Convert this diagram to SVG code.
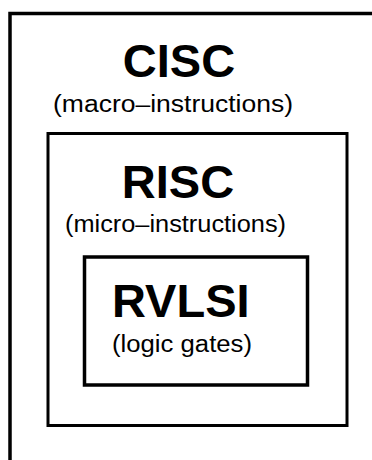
<svg xmlns="http://www.w3.org/2000/svg" width="372" height="460" viewBox="0 0 372 460">
<style>
.box{fill:none;stroke:#000;stroke-width:3.5}
.title{font-family:"Liberation Sans",Arial,sans-serif;font-weight:bold;font-size:47px;fill:#000}
.sub{font-family:"Liberation Sans",Arial,sans-serif;font-size:23px;fill:#000}
</style>
<rect width="372" height="460" fill="#fff"/>
<g id="cisc">
<rect class="box" x="10" y="13.5" width="420" height="520"/>
<text class="title" x="179" y="77" text-anchor="middle">CISC</text>
<text class="sub" x="53" y="112" textLength="240" lengthAdjust="spacingAndGlyphs">(macro–instructions)</text>
</g>
<g id="risc">
<rect class="box" x="48" y="133.5" width="299" height="292" style="stroke-width:3"/>
<text class="title" x="178" y="198" text-anchor="middle">RISC</text>
<text class="sub" x="65" y="232" textLength="221" lengthAdjust="spacingAndGlyphs">(micro–instructions)</text>
</g>
<g id="rvlsi">
<rect class="box" x="84.5" y="257" width="223" height="128"/>
<text class="title" x="112" y="317">RVLSI</text>
<text class="sub" x="112" y="352" textLength="140" lengthAdjust="spacingAndGlyphs">(logic gates)</text>
</g>
<g id="connectors"/>
</svg>
